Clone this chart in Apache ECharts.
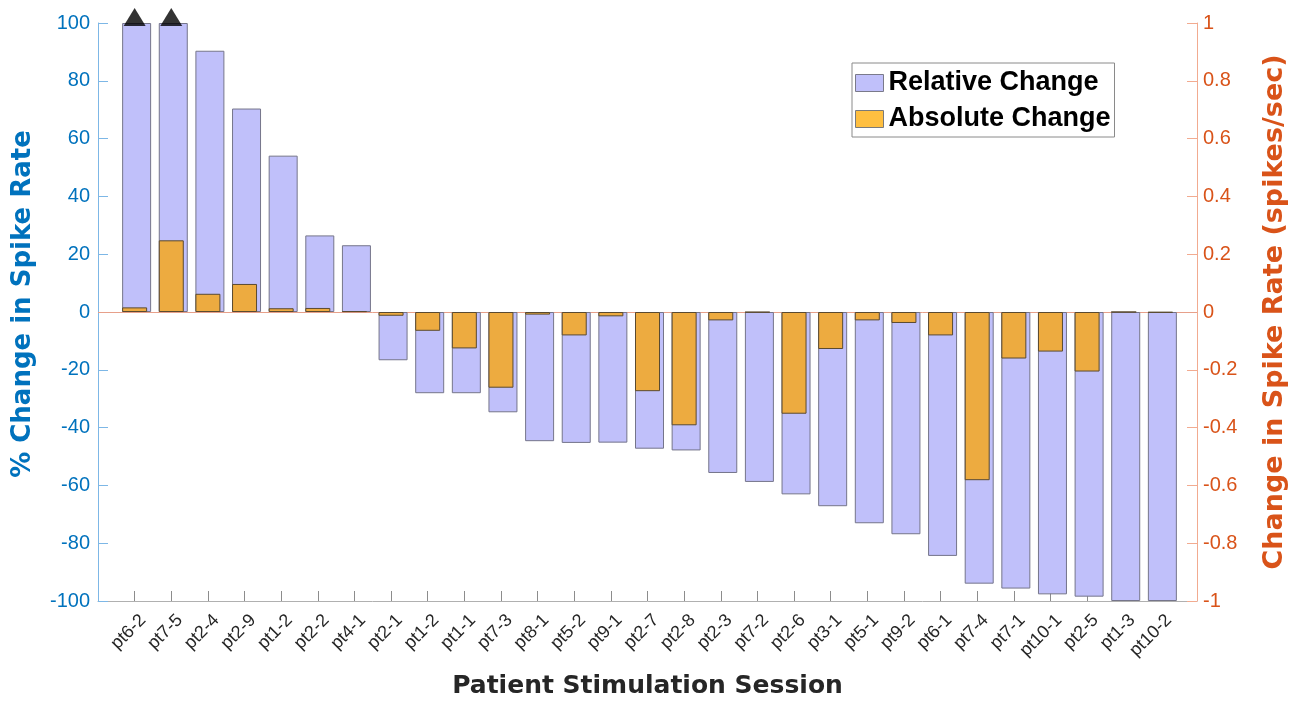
<!DOCTYPE html>
<html>
<head>
<meta charset="utf-8">
<script src="https://cdn.jsdelivr.net/npm/echarts@6/dist/echarts.min.js"></script>
<style>html,body{margin:0;padding:0;background:#fff;}#c{width:1298px;height:708px;}</style>
</head>
<body>
<div id="c"></div>
<script>
const categories = ['pt6-2','pt7-5','pt2-4','pt2-9','pt1-2','pt2-2','pt4-1','pt2-1','pt1-2','pt1-1','pt7-3','pt8-1','pt5-2','pt9-1','pt2-7','pt2-8','pt2-3','pt7-2','pt2-6','pt3-1','pt5-1','pt9-2','pt6-1','pt7-4','pt7-1','pt10-1','pt2-5','pt1-3','pt10-2'];
const relativeChange = [100, 100, 90.4, 70.4, 54.1, 26.5, 23.1, -16.7, -28.1, -28.1, -34.7, -44.7, -45.3, -45.2, -47.3, -47.9, -55.7, -58.8, -63.1, -67.2, -73.1, -76.9, -84.4, -94.0, -95.7, -97.7, -98.5, -100, -100];
const absoluteChange = [0.016, 0.248, 0.063, 0.097, 0.013, 0.014, 0.003, -0.013, -0.065, -0.126, -0.262, -0.009, -0.081, -0.015, -0.274, -0.392, -0.029, -0.001, -0.352, -0.128, -0.029, -0.038, -0.081, -0.582, -0.161, -0.137, -0.206, 0, -0.002];
const cappedIndex = [0, 1];
const cappedValue = [100, 100];
const leftTicks = { min: -100, max: 100, interval: 20 };
const rightTicks = { min: -1, max: 1, interval: 0.2 };

// x range has one empty slot at each end (like xlim [0, n+1])
const axisCats = [''].concat(categories, ['']);
const pad = arr => [null].concat(arr, [null]);

const chart = echarts.init(document.getElementById('c'), null, { renderer: 'canvas' });
const axisFont = 'Liberation Sans, Arial, sans-serif';
const titleFont = 'DejaVu Sans, sans-serif';
chart.setOption({
  animation: false,
  backgroundColor: '#ffffff',
  grid: { left: 98, right: 101, top: 23, bottom: 107, containLabel: false, outerBoundsMode: 'none' },
  legend: {
    orient: 'vertical', left: 852, top: 63,
    itemWidth: 28, itemHeight: 17, itemGap: 8,
    padding: [6, 4, 4, 3],
    borderColor: '#8a8a8a', borderWidth: 1, backgroundColor: '#fff',
    textStyle: { fontFamily: axisFont, fontWeight: 'bold', fontSize: 27, color: '#000', lineHeight: 28 },
    data: [
      { name: 'Relative Change', icon: 'rect', itemStyle: { color: '#c0c0fa', borderColor: '#7a7a8a', borderWidth: 1 } },
      { name: 'Absolute Change', icon: 'rect', itemStyle: { color: '#ffbf40', borderColor: '#7a7a7a', borderWidth: 1 } }
    ]
  },
  xAxis: {
    type: 'category', data: axisCats, boundaryGap: false,
    name: 'Patient Stimulation Session', nameLocation: 'middle', nameGap: 73,
    nameTextStyle: { fontFamily: titleFont, fontWeight: 'bold', fontSize: 25, color: '#262626' },
    axisLine: { show: true, onZero: false, lineStyle: { color: '#b0b0b0', width: 1 } },
    axisTick: { show: true, inside: true, length: 10, interval: (i) => i > 0 && i < axisCats.length - 1, lineStyle: { color: '#8c8c8c' } },
    axisLabel: { rotate: 45, interval: 0, fontFamily: axisFont, fontSize: 18, color: '#262626', margin: 25, padding: [0, -12, 0, 0] },
    splitLine: { show: false }
  },
  yAxis: [{
    type: 'value', position: 'left', min: leftTicks.min, max: leftTicks.max, interval: leftTicks.interval,
    name: '% Change in Spike Rate', nameLocation: 'middle', nameGap: 62,
    nameTextStyle: { fontFamily: titleFont, fontWeight: 'bold', fontSize: 26, color: '#0072BD', padding: [0, 0, 0, 16] },
    axisLine: { show: true, onZero: false, lineStyle: { color: '#7db7e6', width: 1 } },
    axisTick: { show: true, inside: true, length: 10, lineStyle: { color: '#7db7e6' } },
    axisLabel: { fontFamily: axisFont, fontSize: 20, color: '#0072BD', margin: 8 },
    splitLine: { show: false }
  }, {
    type: 'value', position: 'right', min: rightTicks.min, max: rightTicks.max, interval: rightTicks.interval,
    name: 'Change in Spike Rate (spikes/sec)', nameLocation: 'middle', nameGap: 64,
    nameTextStyle: { fontFamily: titleFont, fontWeight: 'bold', fontSize: 27, color: '#D95319' },
    axisLine: { show: true, onZero: false, lineStyle: { color: '#f2ab90', width: 1 } },
    axisTick: { show: true, inside: true, length: 10, lineStyle: { color: '#f2ab90' } },
    axisLabel: { fontFamily: axisFont, fontSize: 20, color: '#D95319', margin: 6,
      formatter: v => (Math.abs(v) < 1e-9 ? '0' : String(+v.toFixed(1))) },
    splitLine: { show: false }
  }],
  series: [{
    name: 'Relative Change', type: 'bar', yAxisIndex: 0, data: pad(relativeChange),
    barWidth: 29, barGap: '-100%',
    itemStyle: { color: '#c0c0fa', borderColor: '#75758a', borderWidth: 1 },
    z: 2
  }, {
    name: 'Absolute Change', type: 'bar', yAxisIndex: 1, data: pad(absoluteChange),
    barWidth: 25, barGap: '-100%',
    itemStyle: { color: '#edab40', borderColor: '#5a4a30', borderWidth: 1 },
    z: 3,
    markLine: {
      silent: true, symbol: 'none', label: { show: false },
      lineStyle: { color: '#e7a08a', width: 1, type: 'solid' },
      data: [{ yAxis: 0 }], z: 1
    }
  }, {
    name: 'capped', type: 'scatter', yAxisIndex: 0,
    data: cappedIndex.map((i, k) => [i + 1, cappedValue[k]]),
    symbol: 'triangle', symbolSize: [22, 18], symbolOffset: [0, -6],
    itemStyle: { color: '#000' }, z: 5, silent: true
  }]
});
</script>
</body>
</html>
